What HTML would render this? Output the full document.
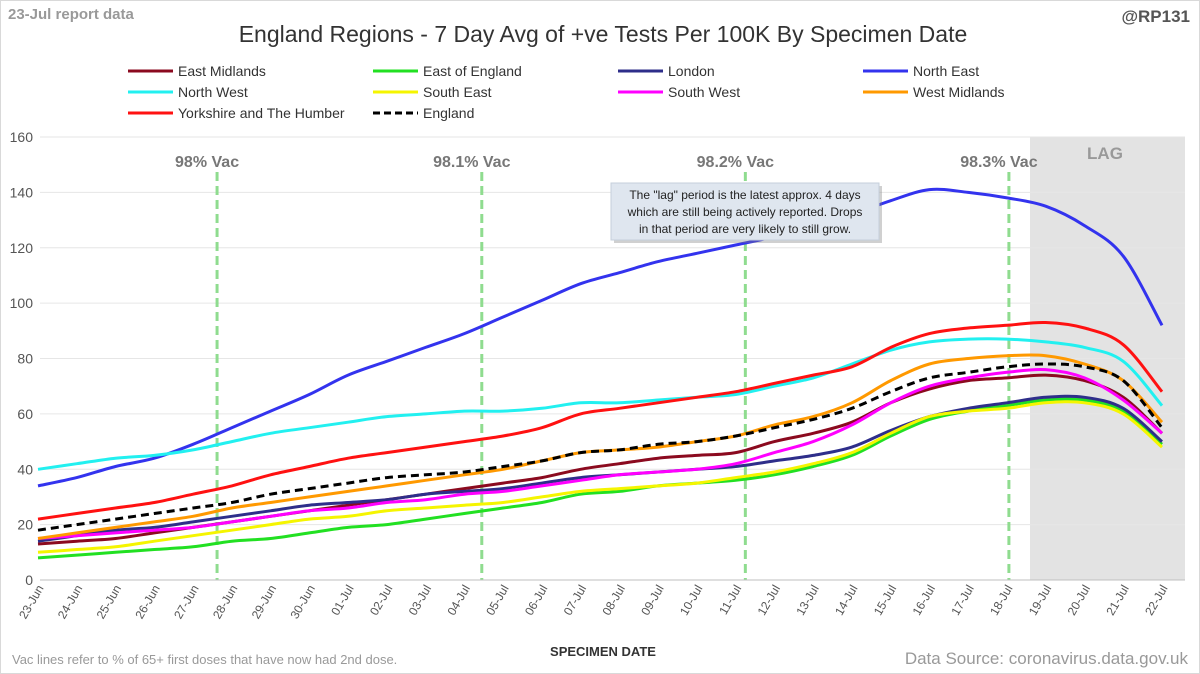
<!DOCTYPE html>
<html><head><meta charset="utf-8"><style>
body{margin:0;background:#fff;font-family:"Liberation Sans",sans-serif}
svg{display:block}
</style></head><body>
<svg id="c" width="1200" height="674" font-family="Liberation Sans, sans-serif">
<rect x="0.5" y="0.5" width="1199" height="673" fill="#fff" stroke="#d9d9d9"/>
<text x="8" y="19" font-size="15" font-weight="bold" fill="#999">23-Jul report data</text>
<text x="1190" y="22" font-size="17" font-weight="bold" fill="#555" text-anchor="end">@RP131</text>
<text x="603" y="42" font-size="23" fill="#333" text-anchor="middle">England Regions - 7 Day Avg of +ve Tests Per 100K By Specimen Date</text>
<rect x="1030" y="137" width="155" height="443" fill="#e3e3e3"/>
<text x="1105" y="159" font-size="17" font-weight="bold" fill="#999" text-anchor="middle">LAG</text>
<g id="grid"></g><g id="vac"></g><g id="series"></g><g id="axes"></g>
<g>
<rect x="614" y="186" width="268" height="57" fill="#777" opacity="0.35"/>
<rect x="611" y="183" width="268" height="57" fill="#dfe6ef" stroke="#c5cfdb"/>
<text font-size="12" fill="#222" text-anchor="middle"><tspan x="745" y="199">The "lag" period is the latest approx. 4 days</tspan><tspan x="745" y="216">which are still being actively reported. Drops</tspan><tspan x="745" y="233">in that period are very likely to still grow.</tspan></text>
</g>
<g id="legend"></g>
<text x="603" y="656" font-size="13" font-weight="bold" fill="#333" text-anchor="middle">SPECIMEN DATE</text>
<text x="12" y="664" font-size="13" fill="#999">Vac lines refer to % of 65+ first doses that have now had 2nd dose.</text>
<text x="1188" y="664" font-size="17" fill="#999" text-anchor="end">Data Source: coronavirus.data.gov.uk</text>
</svg>
<script>
const dates=["23-Jun","24-Jun","25-Jun","26-Jun","27-Jun","28-Jun","29-Jun","30-Jun","01-Jul","02-Jul","03-Jul","04-Jul","05-Jul","06-Jul","07-Jul","08-Jul","09-Jul","10-Jul","11-Jul","12-Jul","13-Jul","14-Jul","15-Jul","16-Jul","17-Jul","18-Jul","19-Jul","20-Jul","21-Jul","22-Jul"];
const yTicks=[0,20,40,60,80,100,120,140,160];
const eastMidlands=[13,14,15,17,19,21,23,25,27,29,31,33,35,37,40,42,44,45,46,50,53,57,64,69,72,73,74,72,66,53];
const eastOfEngland=[8,9,10,11,12,14,15,17,19,20,22,24,26,28,31,32,34,35,36,38,41,45,52,58,61,63,65,65,61,49];
const london=[14,16,18,19,21,23,25,27,28,29,31,32,33,35,37,38,39,40,41,43,45,48,54,59,62,64,66,66,62,50];
const northEast=[34,37,41,44,49,55,61,67,74,79,84,89,95,101,107,111,115,118,121,124,128,132,137,141,140,138,135,128,117,92];
const northWest=[40,42,44,45,47,50,53,55,57,59,60,61,61,62,64,64,65,66,67,70,73,78,83,86,87,87,86,84,79,63];
const southEast=[10,11,12,14,16,18,20,22,23,25,26,27,28,30,32,33,34,35,37,39,42,46,53,59,61,62,64,64,60,48];
const southWest=[15,16,17,18,19,21,23,25,26,28,29,31,32,34,36,38,39,40,42,46,50,56,64,70,73,75,76,73,65,53];
const westMidlands=[15,17,19,21,23,26,28,30,32,34,36,38,40,43,46,47,48,50,52,56,59,64,72,78,80,81,81,78,72,57];
const yorkshire=[22,24,26,28,31,34,38,41,44,46,48,50,52,55,60,62,64,66,68,71,74,77,84,89,91,92,93,91,85,68];
const england=[18,20,22,24,26,28,31,33,35,37,38,39,41,43,46,47,49,50,52,55,58,62,68,73,75,77,78,77,72,55];
const vacPos=[4.62,11.45,18.25,25.05];
const vacLabels=["98% Vac","98.1% Vac","98.2% Vac","98.3% Vac"];
const seriesNames=["East Midlands","East of England","London","North East","North West","South East","South West","West Midlands","Yorkshire and The Humber","England"];
const seriesData=[eastMidlands,eastOfEngland,london,northEast,northWest,southEast,southWest,westMidlands,yorkshire,england];
const seriesColors=["#8b0a1f","#22e022","#2e2e8a","#3333ee","#22f0f0","#f5f500","#ff00ff","#ff9900","#ff1111","#000"];
const NS="http://www.w3.org/2000/svg";
const X0=38,X1=1162,Y0=580,Y1=137;
const x=i=>X0+i*(X1-X0)/(dates.length-1);
const y=v=>Y0-v*(Y0-Y1)/160;
function mk(tag,attrs,parent){const e=document.createElementNS(NS,tag);for(const k in attrs)e.setAttribute(k,attrs[k]);parent.appendChild(e);return e;}
function smooth(pts){let d='M'+pts[0][0].toFixed(1)+','+pts[0][1].toFixed(1);
 for(let i=0;i<pts.length-1;i++){const p0=pts[i-1]||pts[i],p1=pts[i],p2=pts[i+1],p3=pts[i+2]||p2;
 const c1=[p1[0]+(p2[0]-p0[0])/6,p1[1]+(p2[1]-p0[1])/6],c2=[p2[0]-(p3[0]-p1[0])/6,p2[1]-(p3[1]-p1[1])/6];
 d+='C'+c1.map(v=>v.toFixed(1))+' '+c2.map(v=>v.toFixed(1))+' '+p2.map(v=>v.toFixed(1));}
 return d;}
const grid=document.getElementById('grid'),axes=document.getElementById('axes');
yTicks.forEach(t=>{
 if(t>0){const l=mk('line',{x1:40,x2:1185,y1:y(t),y2:y(t),stroke:'#e6e6e6'},grid);
 
 }
 const tx=mk('text',{x:33,y:y(t)+5,'font-size':14,fill:'#555','text-anchor':'end'},axes);tx.textContent=t;
 
 
});
const ax=mk('line',{x1:40,x2:1185,y1:Y0,y2:Y0,stroke:'#bfbfbf'},axes);


dates.forEach((d,i)=>{
 const tx=mk('text',{x:0,y:0,'font-size':12,fill:'#555','text-anchor':'end',transform:`translate(${x(i)+6},${Y0+8}) rotate(-60)`},axes);tx.textContent=d;
 
 
});
const vac=document.getElementById('vac');
vacPos.forEach((p,k)=>{
 const l=mk('line',{x1:x(p),x2:x(p),y1:172,y2:Y0,stroke:'#8fdc8f','stroke-width':3,'stroke-dasharray':'9,5'},vac);
 
 
 const t=mk('text',{x:x(p)-10,y:167,'font-size':16,'font-weight':'bold',fill:'#777','text-anchor':'middle'},vac);t.textContent=vacLabels[k];
 
 
});
const sg=document.getElementById('series');
seriesData.forEach((s,k)=>{
 const d=smooth(s.map((v,i)=>[x(i),y(v)]));
 const p=mk('path',{d:d,fill:'none',stroke:seriesColors[k],'stroke-width':3,'stroke-linejoin':'round','stroke-dasharray':k==9?'8,5':'none'},sg);
 
 
});
const lg=document.getElementById('legend');
seriesNames.forEach((n,k)=>{
 const cx=128+(k%4)*245,cy=71+Math.floor(k/4)*21;
 const g=mk('g',{},lg);
 
 
 mk('line',{x1:cx,x2:cx+45,y1:cy,y2:cy,stroke:seriesColors[k],'stroke-width':3,'stroke-dasharray':k==9?'7,4':'none'},g);
 const t=mk('text',{x:cx+50,y:cy+5,'font-size':14,fill:'#333'},g);t.textContent=n;
});
</script>
</body></html>
